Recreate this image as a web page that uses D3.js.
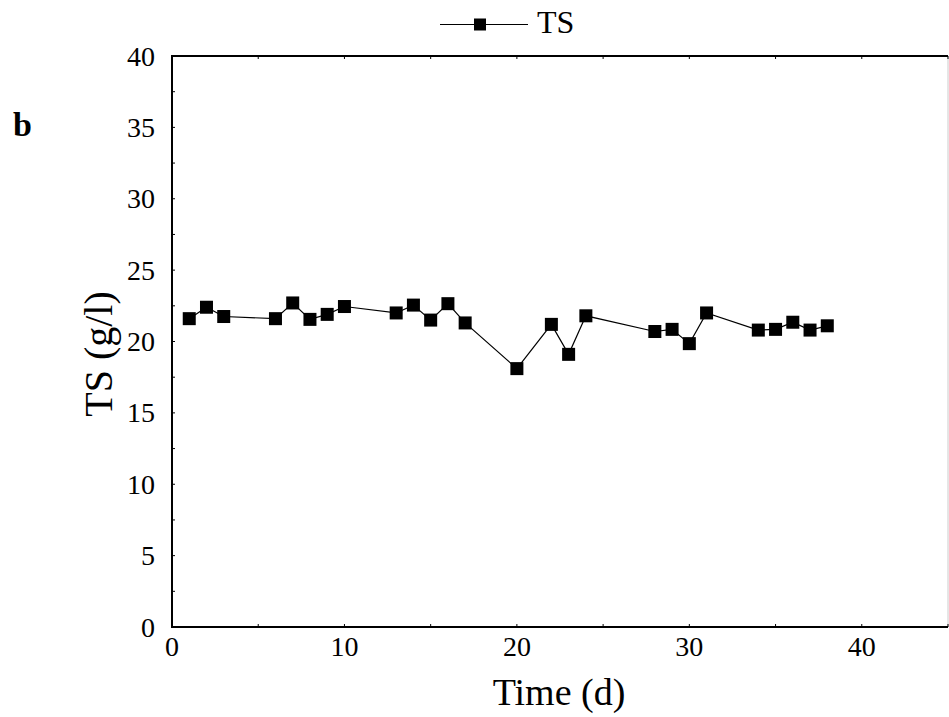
<!DOCTYPE html>
<html>
<head>
<meta charset="utf-8">
<script src="https://cdn.jsdelivr.net/npm/d3@7"></script>
<style>
  body { margin: 0; background: #fff; }
  svg text { font-family: "Liberation Serif", "Times New Roman", serif; fill: #000; }
</style>
</head>
<body>
<div id="chart"></div>
<script>
// Time (d) and total solids (g/l)
const days = [1, 2, 3, 6, 7, 8, 9, 10, 13, 14, 15, 16, 17, 20, 22, 23, 24, 28, 29, 30, 31, 34, 35, 36, 37, 38];
const ts = [21.6, 22.4, 21.75, 21.6, 22.7, 21.55, 21.9, 22.45, 22.0, 22.55, 21.5, 22.65, 21.3, 18.1, 21.2, 19.1, 21.8, 20.7, 20.85, 19.85, 22.0, 20.8, 20.85, 21.35, 20.8, 21.1];
const xTicks = [0, 10, 20, 30, 40];
const yTicks = [0, 5, 10, 15, 20, 25, 30, 35, 40];

const W = 949, H = 717;
const m = {top: 56, right: 1, bottom: 90, left: 172};

const svg = d3.select("#chart").append("svg")
    .attr("width", W).attr("height", H);

const x = d3.scaleLinear().domain([0, 45]).range([m.left, W - m.right]);
const y = d3.scaleLinear().domain([0, 40]).range([H - m.bottom, m.top]);

// frame: right edge is a light line, others black
svg.append("line").attr("x1", x(45)).attr("x2", x(45)).attr("y1", y(40)).attr("y2", y(0))
    .attr("stroke", "#ccc").attr("stroke-width", 1);
svg.append("line").attr("x1", x(0)).attr("x2", x(45)).attr("y1", y(40)).attr("y2", y(40))
    .attr("stroke", "#000").attr("stroke-width", 2);

// small inward ticks
const xt = d3.range(0, 46, 5);
const yt = d3.range(0, 40.1, 2.5);
svg.append("g").selectAll("line").data(xt).enter().append("line")
    .attr("x1", d => x(d)).attr("x2", d => x(d))
    .attr("y1", y(0)).attr("y2", y(0) - 3)
    .attr("stroke", "#000").attr("stroke-width", 1);
svg.append("g").selectAll("line").data(xt).enter().append("line")
    .attr("x1", d => x(d)).attr("x2", d => x(d))
    .attr("y1", y(40)).attr("y2", y(40) + 3)
    .attr("stroke", "#000").attr("stroke-width", 1);
svg.append("g").selectAll("line").data(yt).enter().append("line")
    .attr("x1", x(0)).attr("x2", x(0) + 3)
    .attr("y1", d => y(d)).attr("y2", d => y(d))
    .attr("stroke", "#000").attr("stroke-width", 1);

svg.append("line").attr("x1", x(0)).attr("x2", x(0)).attr("y1", y(40) - 1).attr("y2", y(0) + 1)
    .attr("stroke", "#000").attr("stroke-width", 2);
svg.append("line").attr("x1", x(0) - 1).attr("x2", x(45)).attr("y1", y(0)).attr("y2", y(0))
    .attr("stroke", "#000").attr("stroke-width", 2);

// tick labels
svg.append("g").selectAll("text").data(xTicks).enter().append("text")
    .attr("x", d => x(d)).attr("y", y(0) + 29)
    .attr("text-anchor", "middle").attr("font-size", 28)
    .text(d => d);
svg.append("g").selectAll("text").data(yTicks).enter().append("text")
    .attr("x", x(0) - 17).attr("y", d => y(d) + 9.5)
    .attr("text-anchor", "end").attr("font-size", 28)
    .text(d => d);

// axis titles
svg.append("text").attr("x", 559).attr("y", 705)
    .attr("text-anchor", "middle").attr("font-size", 38).text("Time (d)");
svg.append("text").attr("transform", "translate(112,354) rotate(-90)")
    .attr("text-anchor", "middle").attr("font-size", 40).text("TS (g/l)");

// panel letter
svg.append("text").attr("x", 13).attr("y", 136).attr("font-size", 34)
    .attr("font-weight", "bold").text("b");

// series
const line = d3.line().x((d, i) => x(days[i])).y(d => y(d));
svg.append("path").datum(ts).attr("d", line)
    .attr("fill", "none").attr("stroke", "#000").attr("stroke-width", 1.2);

const ms = 13;
svg.append("g").selectAll("rect").data(ts).enter().append("rect")
    .attr("x", (d, i) => x(days[i]) - ms / 2).attr("y", d => y(d) - ms / 2)
    .attr("width", ms).attr("height", ms).attr("fill", "#000");

// legend
const lg = svg.append("g");
lg.append("line").attr("x1", 440).attr("x2", 528).attr("y1", 24.5).attr("y2", 24.5)
    .attr("stroke", "#000").attr("stroke-width", 1.2);
lg.append("rect").attr("x", 480 - 6).attr("y", 24.5 - 6).attr("width", 12).attr("height", 12).attr("fill", "#000");
lg.append("text").attr("x", 537).attr("y", 33).attr("font-size", 32).text("TS");
</script>
</body>
</html>
